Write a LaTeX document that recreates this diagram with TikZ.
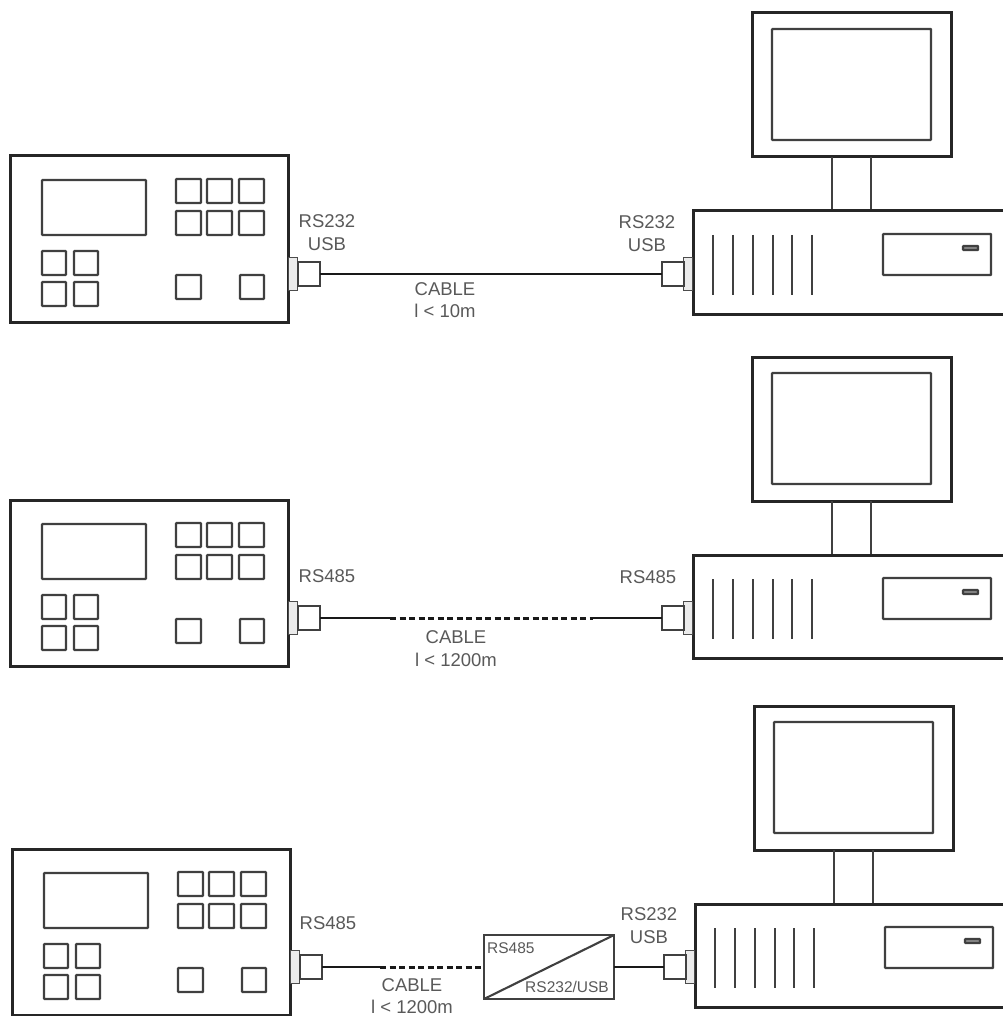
\documentclass[tikz,border=0pt]{standalone}
\usepackage{fontspec}
\setmainfont{Liberation Sans}

\tikzset{
  outline/.style={draw=black!85,line width=3pt},
  part/.style={draw=black!75,line width=2.1pt,rounded corners=0.5pt},
  lbl/.style={text=black!65,inner sep=0pt,font=\fontsize{18.5}{22}\selectfont},
  smalllbl/.style={text=black!65,inner sep=0pt,font=\fontsize{15.5}{18}\selectfont},
  plugbox/.style={draw=black!75,line width=1.8pt,fill=white,minimum width=22pt,minimum height=24pt,inner sep=0pt,outer sep=0pt},
  socketbox/.style={draw=black!70,line width=1.8pt,fill=black!8,minimum width=9pt,minimum height=33pt,inner sep=0pt,outer sep=0pt},
  cable/.style={draw=black!90,line width=2.6pt},
  dotcable/.style={draw=black!90,line width=3pt,dash pattern=on 6pt off 3.5pt},
  convbox/.style={draw=black!75,line width=2.1pt,fill=white,minimum width=130pt,minimum height=64pt,inner sep=0pt,outer sep=0pt},
  panel/.pic={
    \draw[outline] (10,156) rectangle (288,322);
    \draw[part] (42,180) rectangle (146,235);
    \draw[part] (176,179) rectangle (201,203);
    \draw[part] (207,179) rectangle (232,203);
    \draw[part] (239,179) rectangle (264,203);
    \draw[part] (176,211) rectangle (201,235);
    \draw[part] (207,211) rectangle (232,235);
    \draw[part] (239,211) rectangle (264,235);
    \draw[part] (42,251) rectangle (66,275);
    \draw[part] (74,251) rectangle (98,275);
    \draw[part] (42,282) rectangle (66,306);
    \draw[part] (74,282) rectangle (98,306);
    \draw[part] (176,275) rectangle (201,299);
    \draw[part] (240,275) rectangle (264,299);
    \node[socketbox] (-socket) at (293,274) {};
    \node[plugbox] (-plug) at (309,274) {};
  },
  computer/.pic={
    \draw[outline] (752,13) rectangle (951,157);
    \draw[part] (772,29) rectangle (931,140);
    \draw[part] (832,157) -- (832,211);
    \draw[part] (871,157) -- (871,211);
    \draw[outline] (693,211) rectangle (1006,314);
    \draw[part] (713,235) -- (713,295);
    \draw[part] (733,235) -- (733,295);
    \draw[part] (753,235) -- (753,295);
    \draw[part] (773,235) -- (773,295);
    \draw[part] (792,235) -- (792,295);
    \draw[part] (812,235) -- (812,295);
    \draw[part] (883,234) rectangle (991,275);
    \draw[part,fill=black!45] (963,246) rectangle (978,250);
    \node[socketbox] (-socket) at (688,274) {};
    \node[plugbox] (-plug) at (673,274) {};
  }
}

\begin{document}
\begin{tikzpicture}[x=1pt,y=-1pt]
\useasboundingbox (0,0) rectangle (1002,1016);

% direct link
\pic (paneltop) at (0,0) {panel};
\pic (pctop) at (0,0) {computer};
\draw[cable] (paneltop-plug) -- (pctop-plug);
\node[lbl] (toplefta) at (327,221) {RS232};
\node[lbl] (topleftb) at (327,244) {USB};
\node[lbl] (toprighta) at (647,222) {RS232};
\node[lbl] (toprightb) at (647,245) {USB};
\node[lbl] (topcable) at (445,289) {CABLE};
\node[lbl] (toplen) at (445,311) {l < 10m};

% long link
\pic (panelmid) at (0,344) {panel};
\pic (pcmid) at (0,344) {computer};
\coordinate (midbreaka) at (390,618);
\coordinate (midbreakb) at (593,618);
\draw[cable] (panelmid-plug) -- (midbreaka);
\draw[dotcable] (midbreaka) -- (midbreakb);
\draw[cable] (midbreakb) -- (pcmid-plug);
\node[lbl] (midleft) at (327,576) {RS485};
\node[lbl] (midright) at (648,577) {RS485};
\node[lbl] (midcable) at (456,637) {CABLE};
\node[lbl] (midlen) at (456,660) {l < 1200m};

% link with converter
\pic (panellow) at (2,693) {panel};
\pic (pclow) at (2,693) {computer};
\node[convbox] (conv) at (549,967) {};
\coordinate (lowbreak) at (380,967);
\draw[cable] (panellow-plug) -- (lowbreak);
\draw[dotcable] (lowbreak) -- (conv.west);
\draw[cable] (conv.east) -- (pclow-plug);
\draw[draw=black!75,line width=2.1pt] (conv.south west) -- (conv.north east);
\node[smalllbl,anchor=west] (convin) at (487,948) {RS485};
\node[smalllbl,anchor=east] (convout) at (609,987) {RS232/USB};
\node[lbl] (lowleft) at (328,923) {RS485};
\node[lbl] (lowrighta) at (649,914) {RS232};
\node[lbl] (lowrightb) at (649,937) {USB};
\node[lbl] (lowcable) at (412,985) {CABLE};
\node[lbl] (lowlen) at (412,1007) {l < 1200m};
\end{tikzpicture}
\end{document}
